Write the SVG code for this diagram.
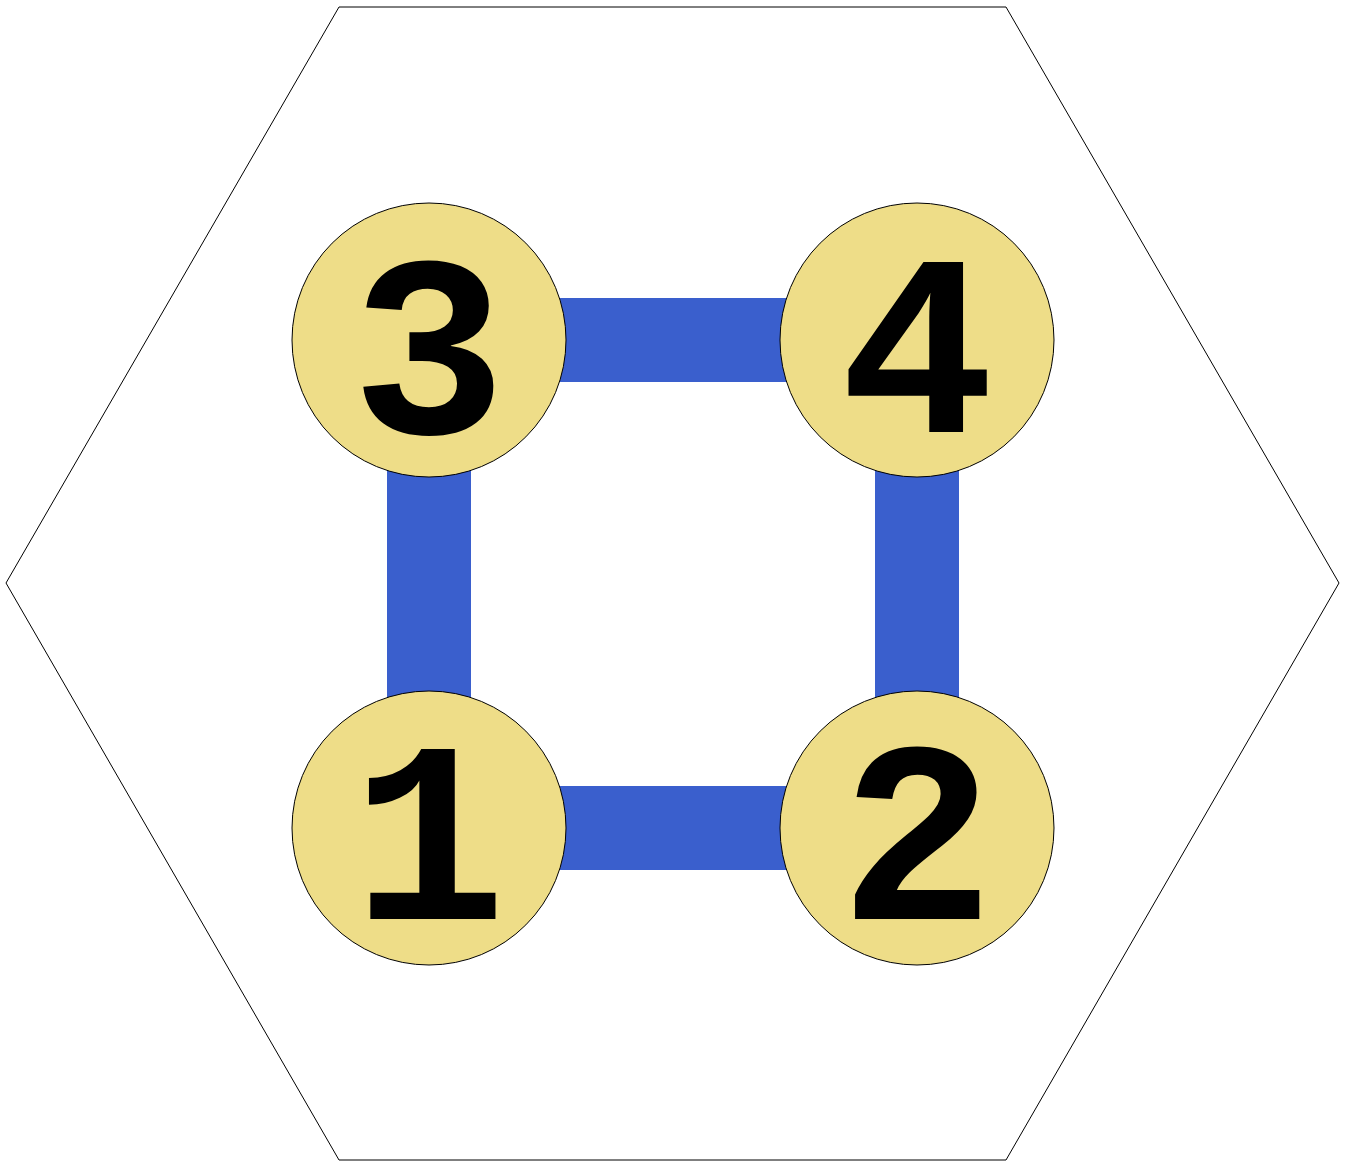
<svg xmlns="http://www.w3.org/2000/svg" width="1346" height="1161" viewBox="0 0 1346 1161">
<style>
.node circle{fill:#EEDD88;stroke:#000;stroke-width:1}
.node text{font-family:'Liberation Mono','Courier New',monospace;font-weight:700;font-size:258px;text-anchor:middle;fill:#000}
.edge{stroke:#3A5FCD;stroke-width:84;fill:none}
</style>
<rect width="1346" height="1161" fill="#fff"/>
<polygon points="339,7 1006,7 1339,583 1006,1160 339,1160 6,583" fill="none" stroke="#000" stroke-width="1"/>
<g id="connectors">
<line class="edge" x1="429" y1="340" x2="917" y2="340"/>
<line class="edge" x1="429" y1="828" x2="917" y2="828"/>
<line class="edge" x1="429" y1="340" x2="429" y2="828"/>
<line class="edge" x1="917" y1="340" x2="917" y2="828"/>
</g>
<g id="node3" class="node"><circle cx="429" cy="340" r="137"/><text x="429" y="433">3</text></g>
<g id="node4" class="node"><circle cx="917" cy="340" r="137"/><text x="917" y="432">4</text></g>
<g id="node1" class="node"><circle cx="429" cy="828" r="137"/><text x="429" y="919">1</text></g>
<g id="node2" class="node"><circle cx="917" cy="828" r="137"/><text x="917" y="919">2</text></g>
</svg>
